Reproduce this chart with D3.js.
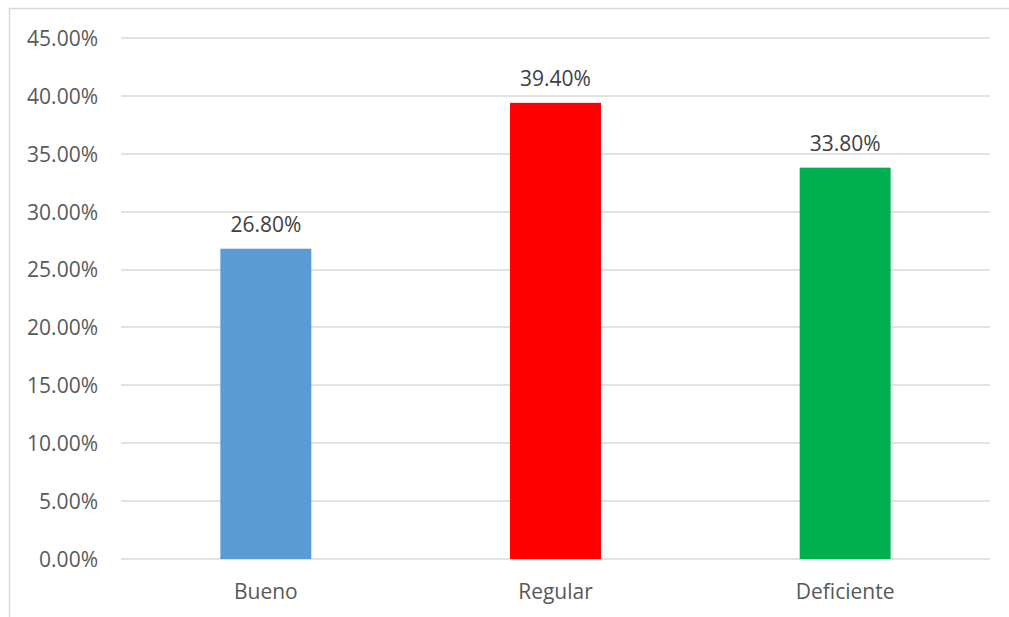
<!DOCTYPE html>
<html>
<head>
<meta charset="utf-8">
<script src="https://cdn.jsdelivr.net/npm/d3@7"></script>
<style>
  body { margin: 0; background: #fff; }
  text { font-family: "Open Sans", "Noto Sans", sans-serif; }
</style>
</head>
<body>
<svg id="chart" width="1009" height="617"></svg>
<script>
var categories = ['Bueno', 'Regular', 'Deficiente']
var values = [0.268, 0.394, 0.338]
var colors = ['#5b9bd5', '#ff0000', '#00b050']
var yTicks = [0, 0.05, 0.10, 0.15, 0.20, 0.25, 0.30, 0.35, 0.40, 0.45]

var svg = d3.select('#chart')

// outer chart border (runs off the right/bottom edge)
svg.append('rect')
	.attr('x', 9.5).attr('y', 8.5)
	.attr('width', 1100).attr('height', 700)
	.attr('fill', 'none')
	.attr('stroke', '#d9d9d9')
	.attr('stroke-width', 1.5)

var plotL = 121, plotR = 990, plotT = 38, plotB = 559

var x = d3.scaleBand()
	.domain(categories)
	.range([plotL, plotR])
	.paddingInner(0.686)
	.paddingOuter(0.343)

var y = d3.scaleLinear()
	.domain([0, 0.45])
	.range([plotB, plotT])

var fmt = function(v) { return (v * 100).toFixed(2) + '%' }

// gridlines
svg.append('g')
	.selectAll('line')
	.data(yTicks)
	.enter()
	.append('line')
	.attr('x1', plotL).attr('x2', plotR)
	.attr('y1', function(d) { return Math.round(y(d)) })
	.attr('y2', function(d) { return Math.round(y(d)) })
	.attr('stroke', '#d9d9d9')
	.attr('stroke-width', 1.5)

// y labels
var yAxis = d3.axisLeft(y).tickValues(yTicks).tickFormat(fmt).tickSize(0).tickPadding(0)
svg.append('g')
	.attr('transform', 'translate(98,0)')
	.call(yAxis)
	.call(function(g) { g.select('.domain').remove() })
	.selectAll('text')
	.attr('fill', '#595959')
	.style('font-size', '21px')
	.attr('dy', '0.35em')

// bars
svg.append('g')
	.selectAll('rect')
	.data(values)
	.enter()
	.append('rect')
	.attr('x', function(d, i) { return x(categories[i]) })
	.attr('width', x.bandwidth())
	.attr('y', function(d) { return y(d) })
	.attr('height', function(d) { return y(0) - y(d) })
	.attr('fill', function(d, i) { return colors[i] })

// value labels
svg.append('g')
	.selectAll('text')
	.data(values)
	.enter()
	.append('text')
	.attr('x', function(d, i) { return x(categories[i]) + x.bandwidth() / 2 })
	.attr('y', function(d) { return y(d) - 17 })
	.attr('text-anchor', 'middle')
	.attr('fill', '#404040')
	.style('font-size', '21px')
	.text(fmt)

// category labels
var xAxis = d3.axisBottom(x).tickSize(0).tickPadding(0)
svg.append('g')
	.attr('transform', 'translate(0,' + plotB + ')')
	.call(xAxis)
	.call(function(g) { g.select('.domain').remove() })
	.selectAll('text')
	.attr('dy', null)
	.attr('y', 40)
	.attr('fill', '#595959')
	.style('font-size', '21px')
</script>
</body>
</html>
